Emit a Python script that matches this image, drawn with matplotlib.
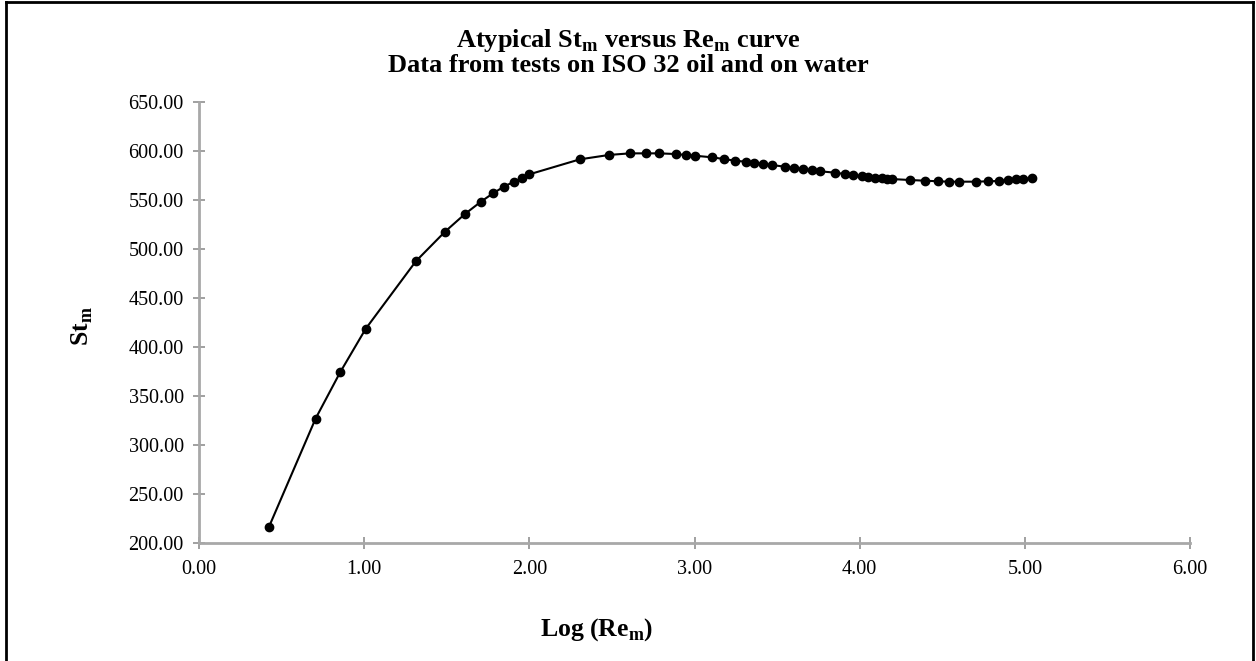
import matplotlib
matplotlib.use("Agg")
import matplotlib.pyplot as plt
from matplotlib.lines import Line2D
from matplotlib.ticker import FormatStrFormatter

log_re = [0.424, 0.706, 0.854, 1.009, 1.313, 1.489, 1.610, 1.707, 1.780, 1.846,
          1.907, 1.953, 2.000, 2.306, 2.484, 2.609, 2.706, 2.786, 2.887, 2.948,
          3.002, 3.104, 3.178, 3.245, 3.309, 3.361, 3.416, 3.467, 3.547, 3.604,
          3.658, 3.709, 3.759, 3.850, 3.910, 3.961, 4.012, 4.051, 4.092, 4.133,
          4.166, 4.193, 4.304, 4.395, 4.475, 4.542, 4.602, 4.703, 4.778, 4.844,
          4.899, 4.945, 4.986, 5.041]
st_m = [216.6, 327.0, 374.0, 418.5, 487.5, 517.6, 535.7, 548.3, 556.8, 563.6,
        568.7, 572.1, 576.2, 591.5, 596.0, 597.6, 597.6, 597.6, 596.9, 595.9,
        595.2, 593.6, 591.8, 590.1, 589.1, 588.1, 586.7, 585.7, 584.0, 582.7,
        581.6, 580.3, 579.3, 577.9, 576.5, 575.2, 574.2, 573.5, 572.8, 572.1,
        571.7, 571.4, 570.4, 569.7, 569.1, 568.7, 568.7, 568.7, 569.1, 569.4,
        570.4, 571.1, 571.4, 572.1]
x_ticks = [0, 1, 2, 3, 4, 5, 6]
y_ticks = [200, 250, 300, 350, 400, 450, 500, 550, 600, 650]

plt.rcParams['font.family'] = ['Liberation Serif', 'DejaVu Serif']
plt.rcParams['mathtext.fontset'] = 'custom'
plt.rcParams['mathtext.rm'] = 'Liberation Serif'
plt.rcParams['mathtext.bf'] = 'Liberation Serif:bold'

W, H = 1256, 661
fig = plt.figure(figsize=(W / 100, H / 100), dpi=100)
fig.patch.set_facecolor('white')

left, right, top, bottom = 199, 1190, 102, 543
ax = fig.add_axes([left / W, 1 - bottom / H, (right - left) / W, (bottom - top) / H])

ax.plot(log_re, st_m, color='black', lw=1.5, marker='o', ms=6, mfc='black', mec='black',
        clip_on=False)

ax.set_xlim(0, 6)
ax.set_ylim(200, 650)
ax.set_xticks(x_ticks)
ax.set_yticks(y_ticks)
ax.xaxis.set_major_formatter(FormatStrFormatter('%.2f'))
ax.yaxis.set_major_formatter(FormatStrFormatter('%.2f'))

for s in ['top', 'right']:
    ax.spines[s].set_visible(False)
for s in ['left', 'bottom']:
    ax.spines[s].set_color('#a8a8a8')
    ax.spines[s].set_linewidth(2.0)
ax.tick_params(axis='both', direction='inout', length=8, width=1.2, color='#909090',
               labelsize=14.5, labelcolor='black')
ax.tick_params(axis='x', pad=8)
ax.tick_params(axis='y', pad=7)

fig.text(0.5, 1 - 40 / H, r'Atypical St$_\mathbf{m}$ versus Re$_\mathbf{m}$ curve',
         ha='center', va='center', fontsize=19, fontweight='bold')
fig.text(0.5, 1 - 65 / H, 'Data from tests on ISO 32 oil and on water',
         ha='center', va='center', fontsize=19, fontweight='bold')
fig.text(597 / W, 1 - 630 / H, r'Log (Re$_\mathbf{m}$)', ha='center', va='center',
         fontsize=18.5, fontweight='bold')
fig.text(82 / W, 1 - 326 / H, r'St$_\mathbf{m}$', ha='center', va='center',
         fontsize=18.5, fontweight='bold', rotation=90)

# figure frame (open at bottom)
frame_kw = dict(color='black', lw=2.0, transform=fig.transFigure)
fig.add_artist(Line2D([6 / W, 6 / W], [0, 1 - 2 / H], **frame_kw))
fig.add_artist(Line2D([6 / W, 1253 / W], [1 - 2 / H, 1 - 2 / H], **frame_kw))
fig.add_artist(Line2D([1253 / W, 1253 / W], [0, 1 - 2 / H], **frame_kw))

fig.savefig('out.png', dpi=100)
